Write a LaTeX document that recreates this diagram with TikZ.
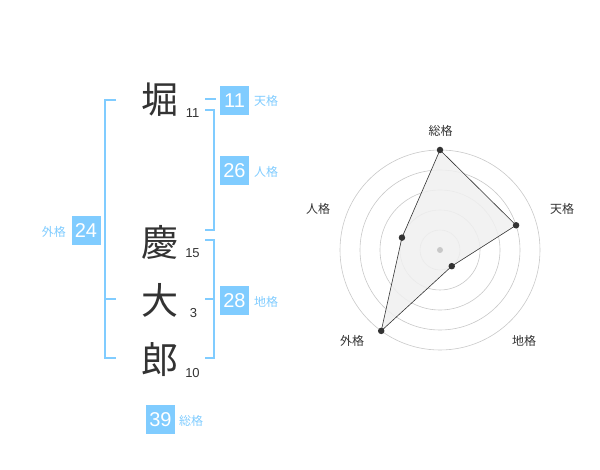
\documentclass[tikz,border=0pt]{standalone}
\usepackage{fontspec}
\usetikzlibrary{calc}
\setmainfont{Liberation Sans}
\newfontfamily\jp{Noto Sans CJK JP}
\definecolor{sky}{RGB}{128,204,255}
\definecolor{ink}{RGB}{51,51,51}
\definecolor{ring}{RGB}{200,200,200}
\definecolor{area}{RGB}{240,240,240}
\begin{document}
\begin{tikzpicture}[x=1pt,y=-1pt,
  bigchar/.style={font=\jp\fontsize{37}{37}\selectfont, text=ink, inner sep=0pt},
  strokes/.style={font=\fontsize{13}{13}\selectfont, text=ink, inner sep=0pt},
  valbox/.style={fill=sky, text=white, minimum width=29pt, minimum height=29pt, inner sep=0pt, font=\fontsize{20}{20}\selectfont},
  vallabel/.style={text=sky, font=\jp\fontsize{12}{12}\selectfont, inner sep=0pt},
  brack/.style={draw=sky, line width=1.4pt},
  radlabel/.style={text=ink, font=\jp\fontsize{12}{12}\selectfont, inner sep=0pt},
  dot/.style={circle, fill=ink, inner sep=0pt, minimum size=6.5pt}]
\useasboundingbox (0,0) rectangle (600,470);
% characters
\node[bigchar] (c1) at (160,100) {堀};
\node[bigchar] (c2) at (160,242) {慶};
\node[bigchar] (c3) at (160,300) {大};
\node[bigchar] (c4) at (160,360) {郎};
\node[strokes] (s1) at (192.5,113.5) {11};
\node[strokes] (s2) at (192.5,253) {15};
\node[strokes] (s3) at (193.5,313) {3};
\node[strokes] (s4) at (192.5,373.5) {10};
% brackets
\coordinate (lt) at (116,100);
\coordinate (lm) at (116,299);
\coordinate (lb) at (116,358);
\draw[brack] (lt) -- (105,100) -- (105,358) -- (lb);
\draw[brack] (105,299) -- (lm);
\coordinate (ta) at (205,99);
\coordinate (tb) at (216,99);
\draw[brack] (ta) -- (tb);
\coordinate (ha) at (205,110);
\coordinate (hb) at (205,230);
\draw[brack] (ha) -- (214,110) -- (214,230) -- (hb);
\coordinate (ea) at (205,240);
\coordinate (eb) at (205,358);
\coordinate (em) at (205,299);
\draw[brack] (ea) -- (214,240) -- (214,358) -- (eb);
\draw[brack] (214,299) -- (em);
% value boxes
\node[valbox] (b11) at (234.5,100.5) {11};
\node[vallabel, anchor=west] (l11) at (254,101) {天格};
\node[valbox] (b26) at (234.5,170.5) {26};
\node[vallabel, anchor=west] (l26) at (254,172) {人格};
\node[valbox] (b24) at (86,230.5) {24};
\node[vallabel, anchor=east] (l24) at (66,232) {外格};
\node[valbox] (b28) at (234.5,300.5) {28};
\node[vallabel, anchor=west] (l28) at (254,302) {地格};
\node[valbox] (b39) at (160.5,419.5) {39};
\node[vallabel, anchor=west] (l39) at (179,421) {総格};
% radar
\coordinate (o) at (440,250);
\foreach \r in {20,40,60,80,100} \draw[ring, line width=0.6pt] (o) circle[radius=\r];
\coordinate (pA) at ($(o)+(0,-100)$);
\coordinate (pB) at ($(o)+({80*cos(18)},{-80*sin(18)})$);
\coordinate (pC) at ($(o)+({20*cos(54)},{20*sin(54)})$);
\coordinate (pD) at ($(o)+({-100*cos(54)},{100*sin(54)})$);
\coordinate (pE) at ($(o)+({-40*cos(18)},{-40*sin(18)})$);
\fill[area, fill opacity=0.85] (pA) -- (pB) -- (pC) -- (pD) -- (pE) -- cycle;
\draw[ink, line width=0.6pt] (pA) -- (pB) -- (pC) -- (pD) -- (pE) -- cycle;
\node[circle, fill=ring, inner sep=0pt, minimum size=6pt] (ctr) at (o) {};
\foreach \p in {pA,pB,pC,pD,pE} \node[dot] at (\p) {};
\node[radlabel] (rA) at (440.5,131) {総格};
\node[radlabel] (rB) at (562,209) {天格};
\node[radlabel] (rE) at (318,209) {人格};
\node[radlabel] (rD) at (352,341) {外格};
\node[radlabel] (rC) at (524,341) {地格};
\end{tikzpicture}
\end{document}
